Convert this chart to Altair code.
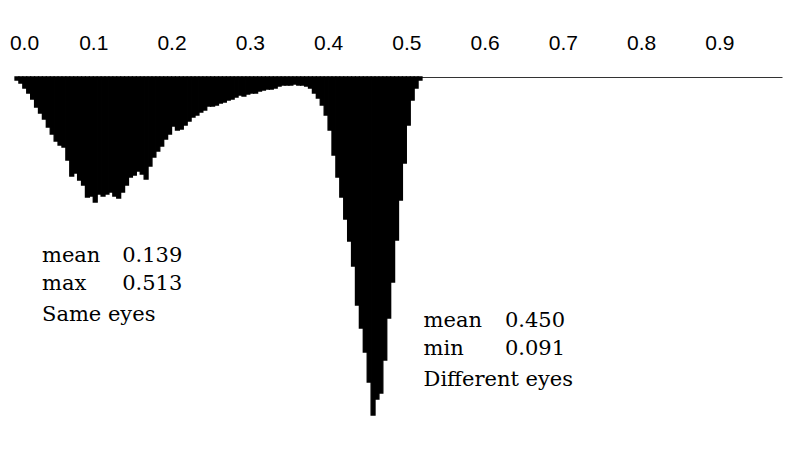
import altair as alt
import pandas as pd

# Histogram of Hamming distances (bin width 0.005), counts
bin_width = 0.005
counts = [
    3, 6, 11, 16, 22, 30, 36, 42, 50, 57,
    64, 68, 70, 83, 99, 96, 103, 108, 120, 119,
    125, 117, 119, 117, 115, 119, 121, 115, 108, 100,
    98, 94, 97, 102, 89, 80, 74, 69, 62, 57,
    49, 53, 52, 48, 44, 40, 38, 35, 33, 29,
    29, 28, 26, 25, 23, 22, 20, 18, 19, 17,
    16, 16, 14, 13, 12, 12, 11, 9, 8, 8,
    8, 7, 8, 8, 9, 11, 16, 21, 28, 38,
    53, 78, 100, 120, 142, 164, 189, 228, 251, 275,
    305, 338, 322, 316, 283, 241, 205, 163, 123, 86,
    48, 23, 11, 3,
]
tick_values = [0.0, 0.1, 0.2, 0.3, 0.4, 0.5, 0.6, 0.7, 0.8, 0.9]

same_labels = ["mean", "max", "Same eyes"]
same_values = ["0.139", "0.513", ""]
diff_labels = ["mean", "min", "Different eyes"]
diff_values = ["0.450", "0.091", ""]

hist = pd.DataFrame({
    "start": [i * bin_width for i in range(len(counts))],
    "count": counts,
})
hist["end"] = hist["start"] + bin_width

# annotation placement (data coordinates)
same_x, same_vx, same_rows = 0.0345, 0.137, [179, 207, 238]
diff_x, diff_vx, diff_rows = 0.522, 0.626, [244, 272, 303]

rows = []
for lab, val, yy in zip(same_labels, same_values, same_rows):
    rows.append({"x": same_x, "y": yy, "text": lab})
    if val:
        rows.append({"x": same_vx, "y": yy, "text": val})
for lab, val, yy in zip(diff_labels, diff_values, diff_rows):
    rows.append({"x": diff_x, "y": yy, "text": lab})
    if val:
        rows.append({"x": diff_vx, "y": yy, "text": val})
ann = pd.DataFrame(rows)

xscale = alt.Scale(domain=[0, 0.98], nice=False, zero=False)
yscale = alt.Scale(domain=[0, 345], reverse=True, nice=False, zero=True)

xaxis = alt.Axis(
    orient="top", values=tick_values, format=".1f", ticks=False, tickSize=0,
    labelFontSize=21, labelFont="Liberation Sans", labelColor="black",
    domainColor="#333", domainWidth=1, labelPadding=24, grid=False,
    title=None, labelFlush=False, labelOverlap=False,
    labelOffset={"condition": {"test": "datum.value === 0", "value": 9}, "value": 0},
)

bars = alt.Chart(hist).mark_bar(color="black", stroke="black", strokeWidth=1.3).encode(
    x=alt.X("start:Q", scale=xscale, axis=xaxis),
    x2="end:Q",
    y=alt.Y("count:Q", scale=yscale, axis=None),
    y2=alt.datum(0),
)

texts = alt.Chart(ann).mark_text(
    align="left", baseline="middle", font="DejaVu Serif", fontSize=21, color="black"
).encode(
    x=alt.X("x:Q", scale=xscale),
    y=alt.Y("y:Q", scale=yscale),
    text="text:N",
)

chart = alt.layer(bars, texts).properties(
    width=767, height=345,
    autosize=alt.AutoSizeParams(type="none"),
    padding={"left": 7, "top": 69, "right": 10, "bottom": 0},
    background="white",
).configure_view(stroke=None)

chart.save("out.html", embed_options={"renderer": "svg", "actions": False})
